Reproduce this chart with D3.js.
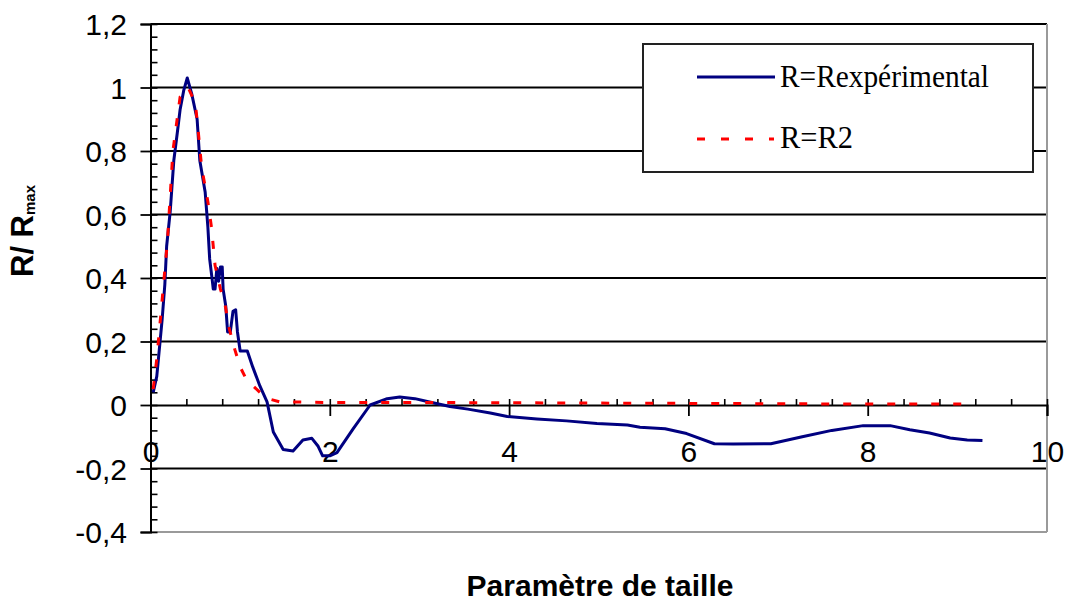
<!DOCTYPE html>
<html>
<head>
<meta charset="utf-8">
<script src="https://cdn.jsdelivr.net/npm/d3@7"></script>
<style>
  html, body { margin: 0; padding: 0; background: #fff; }
  svg { display: block; }
</style>
</head>
<body>
<svg id="chart" width="1069" height="603"></svg>
<script>
// Measured reflectance R/Rmax against the size parameter
const expX = [0.03, 0.07, 0.10, 0.13, 0.16, 0.18, 0.22, 0.24, 0.26, 0.30,
              0.33, 0.37, 0.41, 0.46, 0.52, 0.55, 0.61, 0.64, 0.66, 0.69,
              0.70, 0.72, 0.74, 0.76, 0.78, 0.80, 0.81, 0.84, 0.86, 0.89,
              0.92, 0.95, 0.97, 1.00, 1.08, 1.14, 1.22, 1.30, 1.37, 1.48,
              1.59, 1.70, 1.80, 1.87, 1.92, 2.00, 2.08, 2.26, 2.45, 2.64,
              2.78, 2.95, 3.10, 3.34, 3.54, 3.79, 3.98, 4.31, 4.64, 4.98,
              5.32, 5.46, 5.74, 5.98, 6.29, 6.50, 6.92, 7.27, 7.60, 7.95,
              8.25, 8.47, 8.69, 8.92, 9.11, 9.28];
const expY = [0.04, 0.09, 0.18, 0.27, 0.38, 0.50, 0.61, 0.69, 0.77, 0.86,
              0.93, 0.99, 1.03, 0.98, 0.90, 0.77, 0.67, 0.56, 0.46, 0.39,
              0.365, 0.365, 0.43, 0.39, 0.435, 0.435, 0.365, 0.31, 0.23, 0.23,
              0.295, 0.30, 0.23, 0.17, 0.17, 0.12, 0.06, 0.01, -0.085, -0.14,
              -0.145, -0.11, -0.105, -0.13, -0.16, -0.16, -0.15, -0.075, 0.0, 0.02,
              0.025, 0.02, 0.01, -0.005, -0.013, -0.025, -0.036, -0.044, -0.05, -0.058,
              -0.063, -0.07, -0.075, -0.09, -0.122, -0.123, -0.122, -0.10, -0.08, -0.065,
              -0.065, -0.078, -0.088, -0.104, -0.11, -0.112];

// Model curve R2
const r2X = [0.03, 0.07, 0.12, 0.19, 0.25, 0.33, 0.42, 0.50, 0.53, 0.57,
             0.64, 0.68, 0.72, 0.78, 0.83, 0.87, 0.94, 1.00, 1.07, 1.22,
             1.31, 1.44, 2.0, 3.0, 4.0, 5.0, 6.0, 7.0, 8.0, 9.07];
const r2Y = [0.05, 0.145, 0.30, 0.52, 0.80, 0.97, 1.00, 0.95, 0.87, 0.75,
             0.64, 0.56, 0.44, 0.365, 0.32, 0.25, 0.175, 0.12, 0.08, 0.04,
             0.02, 0.01, 0.008, 0.008, 0.007, 0.006, 0.005, 0.004, 0.003, 0.003];

const xTicks = [0, 2, 4, 6, 8, 10];
const yTicks = [-0.4, -0.2, 0, 0.2, 0.4, 0.6, 0.8, 1, 1.2];
const seriesNames = ["R=Rexpérimental", "R=R2"];
const xTitle = "Paramètre de taille";

const svg = d3.select("#chart");
const x = d3.scaleLinear().domain([0, 10]).range([150.5, 1047]);
const y = d3.scaleLinear().domain([-0.4, 1.2]).range([532, 24]);

const fmt = v => (Math.abs(v) < 1e-9 ? "0" : String(+v.toFixed(1)).replace(".", ","));
const sans = "'Liberation Sans', Arial, sans-serif";

// horizontal gridlines
svg.append("g").selectAll("line")
  .data(yTicks.filter(v => v !== 0))
  .join("line")
  .attr("x1", x(0)).attr("x2", x(10))
  .attr("y1", d => y(d)).attr("y2", d => y(d))
  .attr("stroke", d => d === -0.4 ? "#9a9a9a" : "#000")
  .attr("stroke-width", 1.8);

// right border of the plot area
svg.append("line")
  .attr("x1", x(10)).attr("x2", x(10))
  .attr("y1", y(1.2)).attr("y2", y(-0.4))
  .attr("stroke", "#9a9a9a").attr("stroke-width", 2);

// y axis: major ticks outward, minor ticks inward
const yAxis = svg.append("g").attr("transform", `translate(${x(0)},0)`)
  .call(d3.axisLeft(y).tickValues(yTicks).tickFormat(fmt).tickSize(10).tickPadding(13.5));
yAxis.select(".domain").attr("stroke", "#000").attr("stroke-width", 2);
yAxis.selectAll(".tick line").attr("stroke", "#000").attr("stroke-width", 1.8);
yAxis.selectAll("text").attr("font-family", sans).attr("font-size", 30)
  .attr("fill", "#000").attr("dy", "0.35em");

const yMinor = d3.range(-0.4, 1.2001, 0.04);
const yMin = svg.append("g").attr("transform", `translate(${x(0)},0)`)
  .call(d3.axisRight(y).tickValues(yMinor).tickFormat("").tickSize(7));
yMin.select(".domain").remove();
yMin.selectAll(".tick line").attr("stroke", "#000").attr("stroke-width", 1.6);

// x axis at zero: major ticks downward, minor ticks upward
const xAxis = svg.append("g").attr("transform", `translate(0,${y(0)})`)
  .call(d3.axisBottom(x).tickValues(xTicks).tickFormat(fmt).tickSize(11).tickPadding(25));
xAxis.select(".domain").attr("stroke", "#000").attr("stroke-width", 2);
xAxis.selectAll(".tick line").attr("stroke", "#000").attr("stroke-width", 1.8);
xAxis.selectAll("text").attr("font-family", sans).attr("font-size", 30).attr("fill", "#000");

const xMinor = d3.range(0, 10.001, 0.4);
const xMin = svg.append("g").attr("transform", `translate(0,${y(0)})`)
  .call(d3.axisTop(x).tickValues(xMinor).tickFormat("").tickSize(6));
xMin.select(".domain").remove();
xMin.selectAll(".tick line").attr("stroke", "#000").attr("stroke-width", 1.6);

// series
const line = d3.line().x(d => x(d[0])).y(d => y(d[1]));
svg.append("path")
  .datum(d3.zip(expX, expY))
  .attr("d", line)
  .attr("fill", "none").attr("stroke", "#000080").attr("stroke-width", 3)
  .attr("stroke-linejoin", "round");
svg.append("path")
  .datum(d3.zip(r2X, r2Y))
  .attr("d", line)
  .attr("fill", "none").attr("stroke", "#ff0000").attr("stroke-width", 3)
  .attr("stroke-dasharray", "8,14");

// legend
const lg = svg.append("g");
lg.append("rect").attr("x", 643).attr("y", 44).attr("width", 390).attr("height", 128)
  .attr("fill", "#fff").attr("stroke", "#222").attr("stroke-width", 2);
lg.append("line").attr("x1", 697).attr("x2", 775).attr("y1", 77).attr("y2", 77)
  .attr("stroke", "#000080").attr("stroke-width", 3);
lg.append("line").attr("x1", 697).attr("x2", 774).attr("y1", 139).attr("y2", 139)
  .attr("stroke", "#ff0000").attr("stroke-width", 3).attr("stroke-dasharray", "8,16");
lg.append("text").attr("x", 780).attr("y", 87)
  .attr("font-family", "'Liberation Serif', 'Times New Roman', serif").attr("font-size", 31)
  .attr("textLength", 209).attr("lengthAdjust", "spacingAndGlyphs")
  .text(seriesNames[0]);
lg.append("text").attr("x", 780).attr("y", 148)
  .attr("font-family", "'Liberation Serif', 'Times New Roman', serif").attr("font-size", 31)
  .attr("textLength", 73).attr("lengthAdjust", "spacingAndGlyphs")
  .text(seriesNames[1]);

// axis titles
const yt = svg.append("text")
  .attr("transform", "translate(33,277) rotate(-90)")
  .attr("font-family", sans).attr("font-weight", "bold").attr("fill", "#000");
yt.append("tspan").attr("font-size", 31).text("R/ R");
yt.append("tspan").attr("font-size", 15).attr("dy", 2).text("max");

svg.append("text")
  .attr("x", 600).attr("y", 596).attr("text-anchor", "middle")
  .attr("font-family", sans).attr("font-weight", "bold").attr("font-size", 30)
  .attr("fill", "#000")
  .text(xTitle);
</script>
</body>
</html>
